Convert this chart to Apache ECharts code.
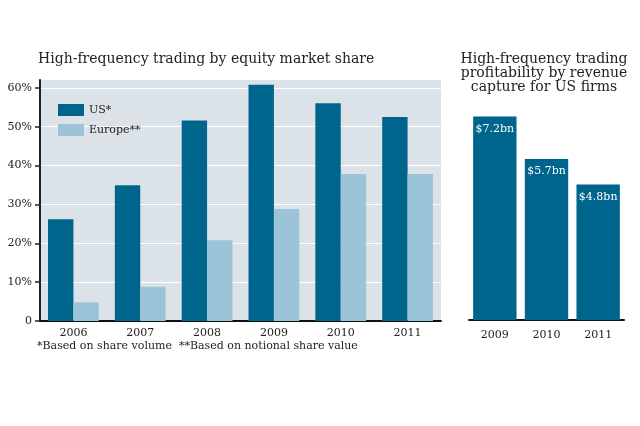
<!DOCTYPE html>
<html><head><meta charset="utf-8">
<script src="https://cdn.jsdelivr.net/npm/echarts@6/dist/echarts.min.js"></script>
<style>html,body{margin:0;padding:0;background:#fff}#c{width:640px;height:426px}</style>
</head><body><div id="c"></div>
<script>
var years = ['2006','2007','2008','2009','2010','2011'];
var usShare = [26.2, 34.9, 51.6, 60.8, 56.0, 52.5];
var europeShare = [4.8, 8.8, 20.8, 28.8, 37.8, 37.8];
var yTicks = [0, 10, 20, 30, 40, 50, 60];
var revYears = ['2009','2010','2011'];
var revenue = [7.2, 5.7, 4.8];
var revLabels = ['$7.2bn','$5.7bn','$4.8bn'];

var FONT = 'DejaVu Serif';
var DARK = '#00658d';
var LIGHT = '#9cc4d8';
var chart = echarts.init(document.getElementById('c'), null, {renderer:'canvas'});
chart.setOption({
  animation: false,
  textStyle: {fontFamily: FONT},
  title: [
    {text: 'High-frequency trading by equity market share', left: 33, top: 47,
     textStyle: {fontFamily: FONT, fontSize: 14, fontWeight: 'normal', color: '#222'}},
    {text: 'High-frequency trading\nprofitability by revenue\ncapture for US firms', left: 539, top: 47, textAlign: 'center',
     textStyle: {fontFamily: FONT, fontSize: 14, fontWeight: 'normal', color: '#222', lineHeight: 14, align: 'center'}},
    {text: '*Based on share volume  **Based on notional share value', left: 32, top: 336,
     textStyle: {fontFamily: FONT, fontSize: 11, fontWeight: 'normal', color: '#222'}}
  ],
  legend: {
    data: ['US*', 'Europe**'], orient: 'vertical', left: 53, top: 99,
    itemWidth: 26, itemHeight: 12, itemGap: 8, icon: 'rect',
    textStyle: {fontFamily: FONT, fontSize: 11, color: '#222'}
  },
  grid: [
    {left: 40, right: 199, top: 80, bottom: 105, show: true, backgroundColor: '#dce3e8', borderWidth: 0},
    {left: 469, right: 16, top: 94, bottom: 106}
  ],
  xAxis: [
    {type: 'category', gridIndex: 0, data: years,
     axisLine: {lineStyle: {color: '#111', width: 2}}, axisTick: {show: false},
     axisLabel: {fontFamily: FONT, fontSize: 11, color: '#222', margin: 7}},
    {type: 'category', gridIndex: 1, data: revYears,
     axisLine: {lineStyle: {color: '#111', width: 2}}, axisTick: {show: false},
     axisLabel: {fontFamily: FONT, fontSize: 11, color: '#222', margin: 10}}
  ],
  yAxis: [
    {type: 'value', gridIndex: 0, min: 0, max: 62, interval: 10,
     axisLine: {show: true, lineStyle: {color: '#222', width: 2}},
     axisTick: {show: true, length: 5, lineStyle: {color: '#222', width: 1.5}, customValues: yTicks},
     axisLabel: {fontFamily: FONT, fontSize: 11, color: '#222', margin: 8, customValues: yTicks,
       formatter: function(v){ return v === 0 ? '0' : v + '%'; }},
     splitLine: {show: true, lineStyle: {color: '#ffffff', width: 1}}},
    {type: 'value', gridIndex: 1, min: 0, max: 8, show: false, splitLine: {show: false}}
  ],
  series: [
    {name: 'US*', type: 'bar', xAxisIndex: 0, yAxisIndex: 0, data: usShare,
     itemStyle: {color: DARK}, barGap: '0%', barCategoryGap: '24%'},
    {name: 'Europe**', type: 'bar', xAxisIndex: 0, yAxisIndex: 0, data: europeShare,
     itemStyle: {color: LIGHT}, barGap: '0%', barCategoryGap: '24%'},
    {name: 'Revenue', type: 'bar', xAxisIndex: 1, yAxisIndex: 1, data: revenue,
     itemStyle: {color: DARK}, barCategoryGap: '16%',
     label: {show: true, position: 'insideTop', distance: 7, color: '#fff', fontFamily: FONT, fontSize: 11,
       formatter: function(p){ return revLabels[p.dataIndex]; }}}
  ]
});
</script></body></html>
